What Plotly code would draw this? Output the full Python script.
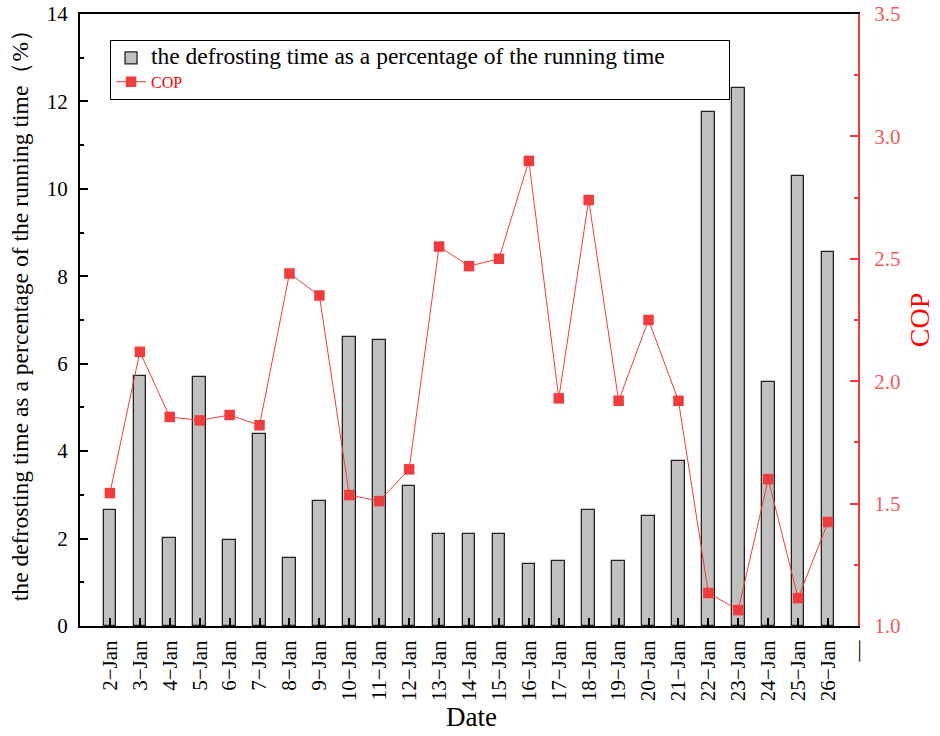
import plotly.graph_objects as go

dates = ["2-Jan", "3-Jan", "4-Jan", "5-Jan", "6-Jan", "7-Jan", "8-Jan", "9-Jan", "10-Jan",
         "11-Jan", "12-Jan", "13-Jan", "14-Jan", "15-Jan", "16-Jan", "17-Jan", "18-Jan",
         "19-Jan", "20-Jan", "21-Jan", "22-Jan", "23-Jan", "24-Jan", "25-Jan", "26-Jan"]
defrost_pct = [2.65, 5.72, 2.02, 5.70, 1.96, 4.40, 1.55, 2.87, 6.61, 6.54, 3.20, 2.10, 2.10,
               2.10, 1.42, 1.48, 2.65, 1.48, 2.52, 3.77, 11.76, 12.31, 5.58, 10.30, 8.56]
cop = [1.543, 2.12, 1.854, 1.84, 1.862, 1.82, 2.44, 2.35, 1.535, 1.51, 1.64, 2.55, 2.47, 2.50,
       2.90, 1.93, 2.74, 1.92, 2.25, 1.92, 1.135, 1.065, 1.60, 1.114, 1.425]
tick_labels = [d.replace("-", "\u2212") for d in dates] + ["\u2013\u2013"]

idx = list(range(len(dates)))
FONT = "Liberation Serif"
RED = "#f03c3c"

fig = go.Figure()
fig.add_trace(go.Bar(
    x=idx, y=defrost_pct, width=0.42,
    marker=dict(color="#c0c0c0", line=dict(color="#222222", width=1.3)),
    name="<span style='font-size:23.5px'>the defrosting time as a percentage of the running time"
         "&nbsp;&nbsp;&nbsp;&nbsp;&nbsp;&nbsp;&nbsp;&nbsp;&nbsp;&nbsp;</span>",
    yaxis="y",
))
fig.add_trace(go.Scatter(
    x=idx, y=cop, yaxis="y2", mode="lines+markers",
    line=dict(color=RED, width=1),
    marker=dict(symbol="square", size=10.5, color=RED),
    name="<span style='color:#ff0000'>COP</span>",
))

fig.update_layout(
    width=940, height=736,
    margin=dict(l=80, r=82, t=14, b=110, autoexpand=False),
    paper_bgcolor="white", plot_bgcolor="white",
    font=dict(family=FONT, color="black"),
    showlegend=True,
    legend=dict(x=0.0386, y=0.9575, xanchor="left", yanchor="top",
                bgcolor="white", bordercolor="black", borderwidth=1,
                font=dict(family=FONT, size=16, color="black"),
                tracegroupgap=0, itemwidth=30),
    xaxis=dict(
        range=[-1, 25], tickmode="array", tickvals=list(range(len(tick_labels))),
        ticktext=tick_labels, tickangle=-90, automargin=False,
        tickfont=dict(family=FONT, size=21, color="black"),
        ticks="inside", ticklen=8, tickwidth=2, tickcolor="black",
        ticklabelstandoff=4,
        showline=True, linecolor="black", linewidth=2, mirror=True,
        showgrid=False, zeroline=False,
    ),
    yaxis=dict(
        range=[0, 14], dtick=2, tick0=0, automargin=False,
        tickfont=dict(family=FONT, size=21, color="black"),
        ticks="inside", ticklen=8, tickwidth=1.5, tickcolor="black",
        ticklabelstandoff=6, ticklabeloverflow="allow",
        minor=dict(ticks="inside", ticklen=4, dtick=1, tickcolor="black", tickwidth=1.5),
        showline=True, linecolor="black", linewidth=2,
        showgrid=False, zeroline=False,
    ),
    yaxis2=dict(
        overlaying="y", side="right", range=[1.0, 3.5], dtick=0.5, tick0=1.0,
        tickformat=".1f", automargin=False,
        tickfont=dict(family=FONT, size=21, color="#f05a5a"),
        ticks="inside", ticklen=8, tickwidth=1.5, tickcolor=RED,
        ticklabelstandoff=10, ticklabeloverflow="allow",
        minor=dict(ticks="inside", ticklen=4, dtick=0.25, tickcolor=RED, tickwidth=1.5),
        showline=True, linecolor=RED, linewidth=2,
        showgrid=False, zeroline=False,
        title=dict(text="COP", font=dict(family=FONT, size=28, color="#ff0000"), standoff=10),
    ),
    bargap=0,
    annotations=[
        dict(text="the defrosting time as a percentage of the running time（%）",
             xref="paper", yref="paper", x=-0.0771, y=0.516,
             xanchor="center", yanchor="middle", textangle=-90, showarrow=False,
             font=dict(family=FONT, size=23.6, color="black")),
        dict(text="Date", xref="paper", yref="paper", x=0.5026, y=-0.1495,
             xanchor="center", yanchor="middle", showarrow=False,
             font=dict(family=FONT, size=27, color="black")),
    ],
)

fig.write_html("out.html", config={"displayModeBar": False},
               post_script="document.body.style.margin='0';document.body.style.overflow='hidden';")
